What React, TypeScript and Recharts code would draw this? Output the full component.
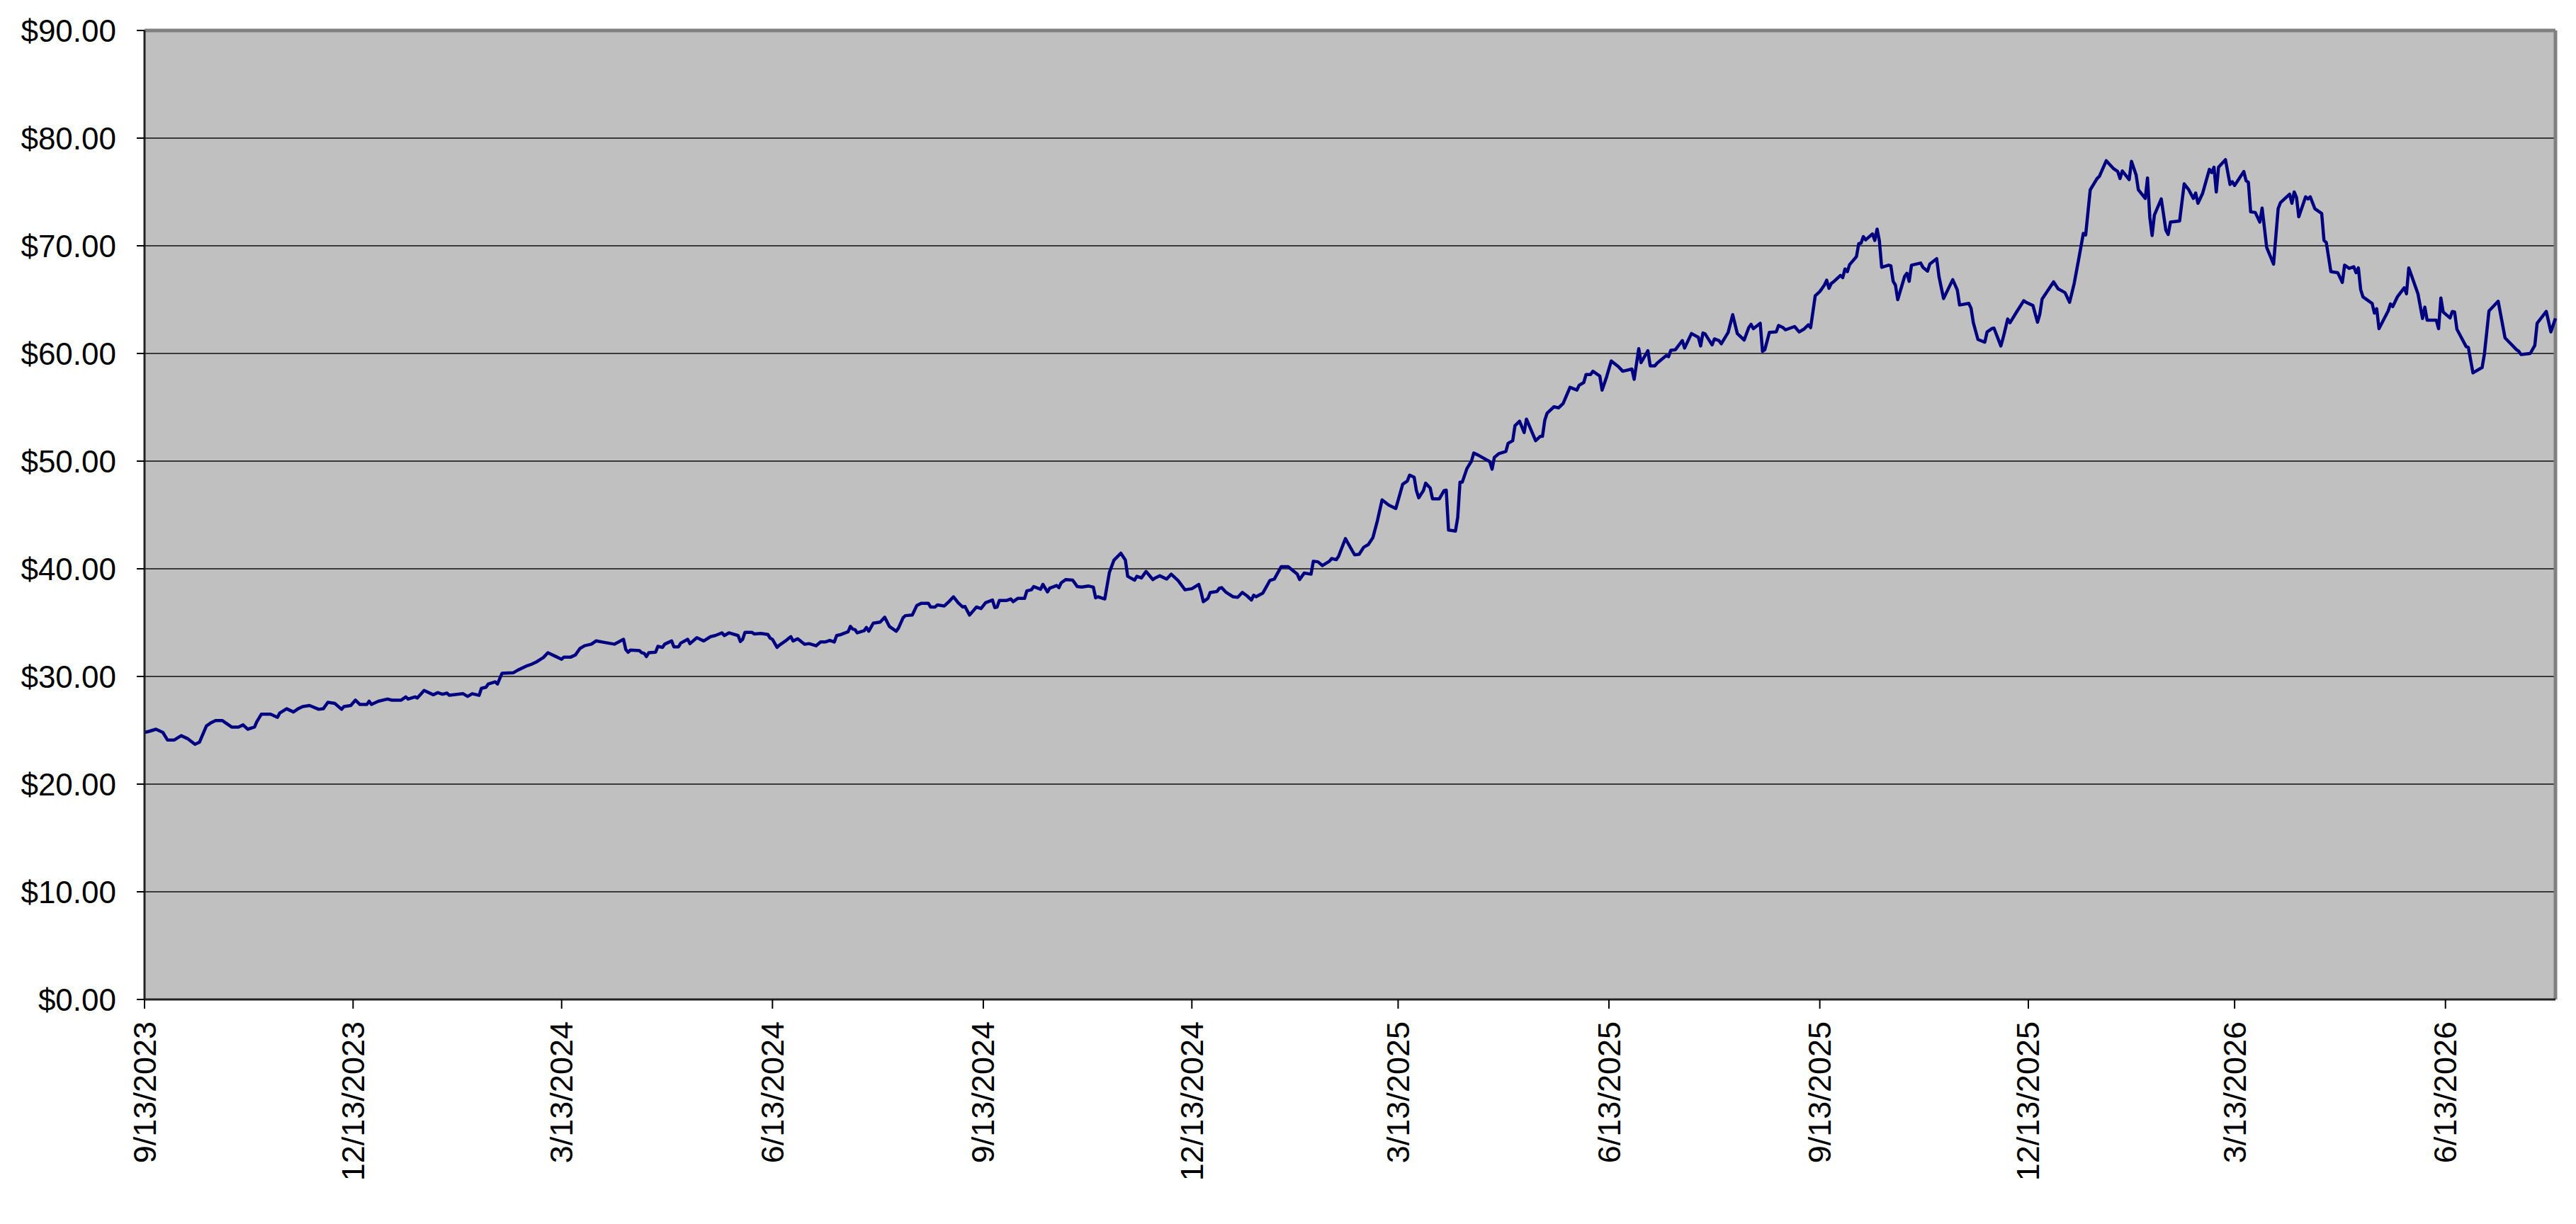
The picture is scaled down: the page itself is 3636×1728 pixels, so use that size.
import React from 'react';
import { LineChart, Line, XAxis, YAxis, CartesianGrid, ReferenceLine } from 'recharts';

// Tick positions are days after 9/13/2023
const tickDays = [0, 91, 182, 274, 366, 457, 547, 639, 731, 822, 912, 1004];
const tickLabels = [
  '9/13/2023', '12/13/2023', '3/13/2024', '6/13/2024', '9/13/2024', '12/13/2024',
  '3/13/2025', '6/13/2025', '9/13/2025', '12/13/2025', '3/13/2026', '6/13/2026',
];
const yTicks = [0, 10, 20, 30, 40, 50, 60, 70, 80, 90];

// Days after 9/13/2023
const days = [
  0, 2, 5, 8, 10, 13, 16, 19, 22, 24, 27, 29, 31, 34, 38, 41, 43, 45, 48, 49,
  51, 55, 58, 59, 62, 65, 67, 69, 72, 76, 78, 80, 83, 86, 87, 90, 92, 94, 97, 98,
  99, 102, 106, 108, 112, 114, 115, 118, 119, 122, 126, 128, 130, 132, 133, 135, 139, 141, 143, 146,
  147, 149, 150, 153, 154, 156, 161, 163, 167, 169, 171, 174, 176, 179, 182, 183, 186, 188,
  190, 192, 195, 197, 201, 205, 209, 210, 211, 212, 216, 217, 218, 219, 220, 223, 224, 226, 227, 230,
  231, 233, 234, 237, 238, 241, 244, 247, 249, 252, 253, 255, 259, 260, 261, 262, 265, 266, 269, 272,
  273, 274, 276, 277, 280, 282, 283, 285, 288, 290, 293, 295, 297, 299, 301, 302, 304, 307, 308, 309,
  310, 311, 314, 315, 316, 318, 321, 323, 325, 328, 329, 331, 332, 335, 337, 339, 342, 343, 345, 346,
  349, 351, 353, 355, 357, 358, 360, 363, 365, 367, 370, 371, 372, 373, 376,
  378, 379, 381, 384, 385, 387, 388, 391, 392, 394, 395, 398, 399, 400, 402, 405, 407, 409, 412, 414,
  415, 416, 419, 421, 423, 426, 428, 429, 432, 433, 435, 437, 440, 441, 443, 446, 448, 451, 454, 457,
  460, 461, 462, 464, 465, 468, 469, 470, 472, 475, 477, 479, 481, 483, 484, 485, 488, 491, 493, 496,
  499, 503, 504, 506, 509, 510, 512, 514, 517, 518, 520, 521, 524, 528, 530, 532, 534, 536,
  538, 540, 543, 546,
  549, 551, 552, 554, 555, 556, 558, 559, 561, 562, 565, 567, 568, 569, 572, 573, 574, 575, 577, 579,
  580, 582, 587, 588, 589, 591, 594, 595, 597, 598, 600, 602, 603, 607, 609, 610, 611, 612, 615, 617,
  619, 622, 625, 626, 628, 629, 631, 632, 635, 636, 638, 640, 643, 645, 649, 650, 652, 653, 656, 657,
  659, 660, 664, 665, 666, 668, 671, 672, 675, 678, 679, 680, 681, 684, 685, 687, 688, 691, 693, 695,
  698, 700, 701, 702, 705, 706, 707, 709, 712, 713, 715, 716, 720, 722, 724, 726, 727, 729, 731, 733,
  734, 735, 736, 737, 740, 741, 742, 743, 744, 747, 748, 749, 750, 751, 754, 755, 756, 757, 758, 761,
  762, 763, 764, 765, 768, 769, 770, 771, 775, 776, 778, 779, 782, 783, 785, 789, 791, 792, 796, 797,
  798, 800, 803, 804, 806, 807, 810, 811, 813, 814, 817, 820, 821, 824, 826, 827, 828, 833, 835, 838,
  840, 842, 844, 846, 847, 849, 852, 853, 856, 859, 861, 862, 863, 866, 867, 869, 870, 873, 874, 875,
  876, 877, 880, 882, 883, 884, 888, 890, 892, 894, 895, 896, 898, 901, 902, 903, 904, 905, 908, 910,
  911, 912, 916, 917, 918, 919, 921, 923, 924, 926, 929, 931, 932, 936, 937, 938, 939, 940, 943, 944,
  945, 947, 950, 951, 952, 954, 957, 959, 960, 962, 964, 965, 966, 967, 968, 972, 973, 974, 975, 979,
  980, 981, 983, 986, 987, 988, 989, 992, 994, 995, 996, 1000, 1001, 1002, 1003, 1006, 1007, 1008, 1009, 1013,
  1014, 1016, 1020, 1021, 1023, 1027, 1030, 1035, 1036, 1037, 1041, 1043, 1044, 1048, 1050, 1052,
];

const prices = [
  24.8, 24.9, 25.1, 24.8, 24.1, 24.1, 24.5, 24.2, 23.7, 23.9, 25.4, 25.7, 25.9, 25.9, 25.3, 25.3, 25.5, 25.1, 25.3, 25.8,
  26.5, 26.5, 26.2, 26.6, 27.0, 26.7, 27.0, 27.2, 27.3, 26.95, 27.0, 27.6, 27.5, 26.95, 27.2, 27.3, 27.8, 27.4, 27.4, 27.7,
  27.4, 27.7, 27.9, 27.8, 27.8, 28.1, 27.9, 28.1, 28.0, 28.7, 28.3, 28.5, 28.35, 28.45, 28.25, 28.3, 28.4, 28.15, 28.4, 28.25,
  28.9, 29.0, 29.3, 29.5, 29.3, 30.3, 30.35, 30.6, 31.0, 31.15, 31.35, 31.75, 32.2, 31.9, 31.6, 31.8, 31.8, 32.0,
  32.6, 32.85, 33.0, 33.3, 33.15, 33.0, 33.45, 32.5, 32.25, 32.45, 32.4, 32.2, 32.15, 31.85, 32.2, 32.25, 32.8, 32.7, 33.0, 33.3,
  32.75, 32.75, 33.1, 33.45, 33.05, 33.6, 33.3, 33.7, 33.8, 34.05, 33.8, 34.05, 33.8, 33.25, 33.45, 34.1, 34.1, 33.95, 34.0, 33.9,
  33.55, 33.45, 32.7, 32.9, 33.35, 33.7, 33.3, 33.5, 33.0, 33.05, 32.85, 33.2, 33.2, 33.35, 33.2, 33.8, 33.9, 34.15, 34.65, 34.4,
  34.35, 34.05, 34.25, 34.55, 34.2, 34.95, 35.05, 35.5, 34.65, 34.2, 34.5, 35.45, 35.65, 35.7, 36.6, 36.8, 36.8, 36.45, 36.45, 36.65,
  36.55, 36.95, 37.4, 36.85, 36.45, 36.5, 35.7, 36.45, 36.3, 36.85, 37.1, 36.4, 36.45, 37.05, 37.05,
  37.2, 36.95, 37.25, 37.25, 37.95, 38.05, 38.35, 38.1, 38.55, 37.85, 38.2, 38.45, 38.25, 38.7, 39.0, 38.95, 38.35, 38.3, 38.4, 38.3,
  37.3, 37.4, 37.2, 39.65, 40.8, 41.45, 40.8, 39.3, 38.95, 39.3, 39.15, 39.75, 39.0, 39.15, 39.35, 39.05, 39.5, 38.9, 38.05, 38.15,
  38.55, 37.85, 36.95, 37.25, 37.8, 37.9, 38.2, 38.25, 37.8, 37.4, 37.35, 37.8, 37.5, 37.1, 37.55, 37.4, 37.75, 38.9, 39.05, 40.2,
  40.2, 39.5, 39.0, 39.6, 39.5, 40.7, 40.65, 40.3, 40.7, 40.95, 40.85, 41.15, 42.8, 41.3, 41.35, 42.0, 42.25, 42.9,
  44.5, 46.4, 45.9, 45.6,
  47.85, 48.15, 48.7, 48.5, 47.25, 46.6, 47.25, 47.95, 47.5, 46.5, 46.5, 47.25, 47.3, 43.6, 43.5, 44.75, 48.05, 48.05, 49.3, 50.0,
  50.75, 50.55, 49.95, 49.25, 50.35, 50.7, 50.9, 51.65, 51.9, 53.3, 53.7, 52.65, 53.9, 51.9, 52.3, 52.3, 53.8, 54.45, 55.05, 54.95,
  55.35, 56.85, 56.6, 57.05, 57.3, 58.05, 58.05, 58.35, 57.9, 56.6, 57.85, 59.3, 58.8, 58.35, 58.55, 57.6, 60.45, 59.15, 60.25, 58.85,
  58.85, 59.1, 59.8, 59.7, 60.3, 60.35, 61.2, 60.5, 61.85, 61.5, 60.7, 61.9, 61.8, 60.8, 61.35, 61.2, 60.9, 61.95, 63.6, 61.85,
  61.25, 62.4, 62.7, 62.3, 62.8, 60.2, 60.35, 61.95, 62.0, 62.6, 62.4, 62.2, 62.5, 62.0, 62.25, 62.65, 62.4, 65.35, 65.75, 66.35,
  66.8, 66.05, 66.5, 66.65, 67.25, 67.05, 67.85, 67.6, 68.25, 69.0, 70.2, 70.25, 70.85, 70.55, 71.1, 70.5, 71.55, 70.45, 68.0, 68.2,
  68.15, 66.7, 66.35, 65.0, 67.15, 67.45, 66.7, 68.2, 68.4, 68.0, 67.65, 68.3, 68.8, 67.15, 65.1, 66.85, 65.9, 64.5, 64.65, 64.2,
  62.85, 61.3, 61.05, 62.0, 62.3, 62.35, 60.7, 61.45, 63.2, 62.85, 63.9, 64.9, 64.75, 64.45, 62.9, 63.65, 65.05, 66.65, 66.0, 65.65,
  64.75, 66.5, 68.8, 71.15, 71.0, 75.2, 76.25, 76.45, 77.9, 77.2, 76.9, 76.25, 76.95, 76.15, 77.85, 76.6, 75.2, 74.4, 76.3, 72.65,
  70.95, 72.85, 74.35, 71.45, 71.05, 72.2, 72.3, 75.75, 75.2, 74.4, 74.9, 73.95, 74.85, 77.1, 76.8, 77.3, 75.0, 77.3, 78.0, 75.7,
  75.95, 75.6, 76.9, 76.05, 75.9, 73.15, 73.1, 72.2, 73.5, 69.85, 68.3, 73.45, 74.0, 74.8, 73.95, 75.0, 74.5, 72.7, 74.55, 74.35,
  74.55, 73.45, 73.0, 70.5, 70.3, 67.6, 67.5, 66.6, 68.2, 67.9, 68.05, 67.5, 67.95, 65.95, 65.25, 64.65, 63.75, 64.15, 62.3, 63.95,
  64.6, 64.35, 65.25, 66.1, 65.55, 67.95, 67.35, 65.55, 63.25, 64.3, 63.1, 63.1, 62.3, 65.15, 63.85, 63.3, 63.9, 63.85, 62.25, 60.65,
  60.55, 58.2, 58.7, 59.95, 63.95, 64.85, 61.45, 60.35, 60.2, 59.9, 60.0, 60.75, 62.8, 63.9, 62.0, 63.25,
];

const data = days.map((d, i) => ({ day: d, price: prices[i] }));

const FONT = '"Liberation Sans", Arial, Helvetica, sans-serif';
const LAST_DAY = 1052;

const XTick = (props: any) => {
  const { x, y, payload } = props;
  const idx = tickDays.indexOf(payload.value);
  return (
    <text
      x={x}
      y={y}
      transform={`rotate(-90 ${x} ${y})`}
      textAnchor="end"
      dominantBaseline="central"
      fontSize={45}
      fontFamily={FONT}
      fill="#000"
    >
      {idx >= 0 ? tickLabels[idx] : ''}
    </text>
  );
};

export default function App() {
  return (
    <div style={{ width: 3620, height: 1704 }}>
      <LineChart
        width={3620}
        height={1704}
        data={data}
        margin={{ top: 35, right: 21, bottom: 11, left: 0 }}
      >
        <CartesianGrid
          vertical={false}
          stroke="#3a3a3a"
          strokeWidth={2}
          fill="#C0C0C0"
          fillOpacity={1}
        />
        <XAxis
          dataKey="day"
          type="number"
          domain={[0, LAST_DAY]}
          ticks={tickDays}
          interval={0}
          height={290}
          tickSize={13}
          tickMargin={18}
          tick={<XTick />}
          axisLine={{ stroke: '#222', strokeWidth: 3 }}
          tickLine={{ stroke: '#000', strokeWidth: 2 }}
        />
        <YAxis
          type="number"
          domain={[0, 90]}
          ticks={yTicks}
          interval={0}
          width={196}
          tickSize={11}
          tickMargin={29}
          tickFormatter={(v: number) => `$${v.toFixed(2)}`}
          tick={{ fontSize: 44, fill: '#000', fontFamily: FONT }}
          axisLine={{ stroke: '#222', strokeWidth: 3 }}
          tickLine={{ stroke: '#000', strokeWidth: 2 }}
        />
        <ReferenceLine y={90} stroke="#808080" strokeWidth={5} />
        <ReferenceLine x={LAST_DAY} stroke="#808080" strokeWidth={5} />
        <Line
          type="linear"
          dataKey="price"
          stroke="#000080"
          strokeWidth={4.5}
          strokeLinejoin="round"
          dot={false}
          activeDot={false}
          isAnimationActive={false}
        />
      </LineChart>
    </div>
  );
}
